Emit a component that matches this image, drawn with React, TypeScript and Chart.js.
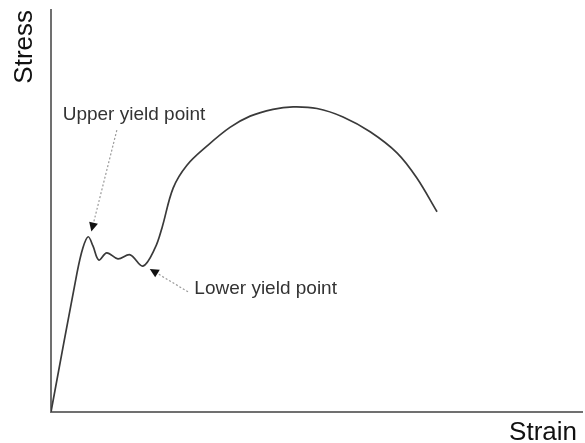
import React, { useEffect, useRef } from "react";
import { Chart, registerables } from "chart.js";

Chart.register(...registerables);

// Strain (arbitrary units, 0-100) and stress (arbitrary units, 0-100)
const strain = [0, 4.9, 6.0, 7.0, 7.9, 9.0, 10.5, 12.6, 14.9, 17.3, 19.6, 20.9, 23.0, 25.6, 29.4, 33.7, 37.5, 41.8, 45.6, 50.1, 55.0, 60.1, 65.2, 68.9, 72.7];
const stress = [0, 34.6, 40.8, 43.6, 41.3, 37.8, 39.6, 38.1, 39.1, 36.3, 40.8, 45.8, 55.7, 61.4, 66.2, 70.8, 73.6, 75.3, 75.9, 75.5, 73.4, 69.7, 64.4, 58.2, 49.8];

// Annotation labels and arrows (data units)
const noteLabels = ["Upper yield point", "Lower yield point"];
const noteTextX = [2.2, 27.0];
const noteTextY = [73.9, 30.6];
const arrowFromX = [12.4, 25.8];
const arrowFromY = [70.1, 29.9];
const arrowToX = [7.6, 18.6];
const arrowToY = [44.9, 35.6];

const xTitle = "Strain";
const yTitle = "Stress";

const FONT = '"Liberation Sans", Arial, sans-serif';

const annotationPlugin = {
  id: "annotations",
  afterDraw(chart: any) {
    const { ctx, chartArea, scales } = chart;
    const xs = scales.x;
    const ys = scales.y;
    ctx.save();
    for (let i = 0; i < noteLabels.length; i++) {
      ctx.fillStyle = "#333";
      ctx.font = `19px ${FONT}`;
      ctx.textAlign = "left";
      ctx.textBaseline = "middle";
      ctx.fillText(noteLabels[i], xs.getPixelForValue(noteTextX[i]), ys.getPixelForValue(noteTextY[i]));

      const x1 = xs.getPixelForValue(arrowFromX[i]);
      const y1 = ys.getPixelForValue(arrowFromY[i]);
      const x2 = xs.getPixelForValue(arrowToX[i]);
      const y2 = ys.getPixelForValue(arrowToY[i]);
      const ang = Math.atan2(y2 - y1, x2 - x1);
      const headLen = 9;
      const headW = 4.5;
      const bx = x2 - headLen * Math.cos(ang);
      const by = y2 - headLen * Math.sin(ang);
      ctx.strokeStyle = "#9a9a9a";
      ctx.lineWidth = 1.2;
      ctx.setLineDash([2, 2]);
      ctx.beginPath();
      ctx.moveTo(x1, y1);
      ctx.lineTo(bx, by);
      ctx.stroke();
      ctx.setLineDash([]);
      ctx.fillStyle = "#111";
      ctx.beginPath();
      ctx.moveTo(x2, y2);
      ctx.lineTo(bx + headW * Math.sin(ang), by - headW * Math.cos(ang));
      ctx.lineTo(bx - headW * Math.sin(ang), by + headW * Math.cos(ang));
      ctx.closePath();
      ctx.fill();
    }
    ctx.fillStyle = "#111";
    ctx.font = `26px ${FONT}`;
    ctx.textAlign = "right";
    ctx.textBaseline = "top";
    ctx.fillText(xTitle, chartArea.right - 5, chartArea.bottom + 8);
    ctx.save();
    ctx.translate(chartArea.left - 26, chartArea.top);
    ctx.rotate(-Math.PI / 2);
    ctx.textAlign = "right";
    ctx.textBaseline = "middle";
    ctx.fillText(yTitle, 0, 0);
    ctx.restore();
    ctx.restore();
  },
};

export default function App() {
  const ref = useRef<HTMLCanvasElement>(null);
  useEffect(() => {
    document.body.style.margin = "0";
    const chart = new Chart(ref.current!, {
      type: "line",
      data: {
        datasets: [
          {
            data: strain.map((s, i) => ({ x: s, y: stress[i] })),
            borderColor: "#3a3a3a",
            borderWidth: 1.7,
            pointRadius: 0,
            tension: 0.35,
            fill: false,
          },
        ],
      },
      options: {
        responsive: false,
        animation: false,
        layout: { padding: { left: 51, right: 3, top: 10, bottom: 31 } },
        plugins: { legend: { display: false }, tooltip: { enabled: false } },
        scales: {
          x: {
            type: "linear",
            min: 0,
            max: 100,
            grid: { display: false, drawTicks: false },
            ticks: { display: false },
            border: { display: true, color: "#707070", width: 2 },
          },
          y: {
            type: "linear",
            min: 0,
            max: 100,
            grid: { display: false, drawTicks: false },
            ticks: { display: false },
            border: { display: true, color: "#707070", width: 2 },
          },
        },
      },
      plugins: [annotationPlugin],
    });
    return () => chart.destroy();
  }, []);
  return <canvas ref={ref} width={585} height={443} />;
}
